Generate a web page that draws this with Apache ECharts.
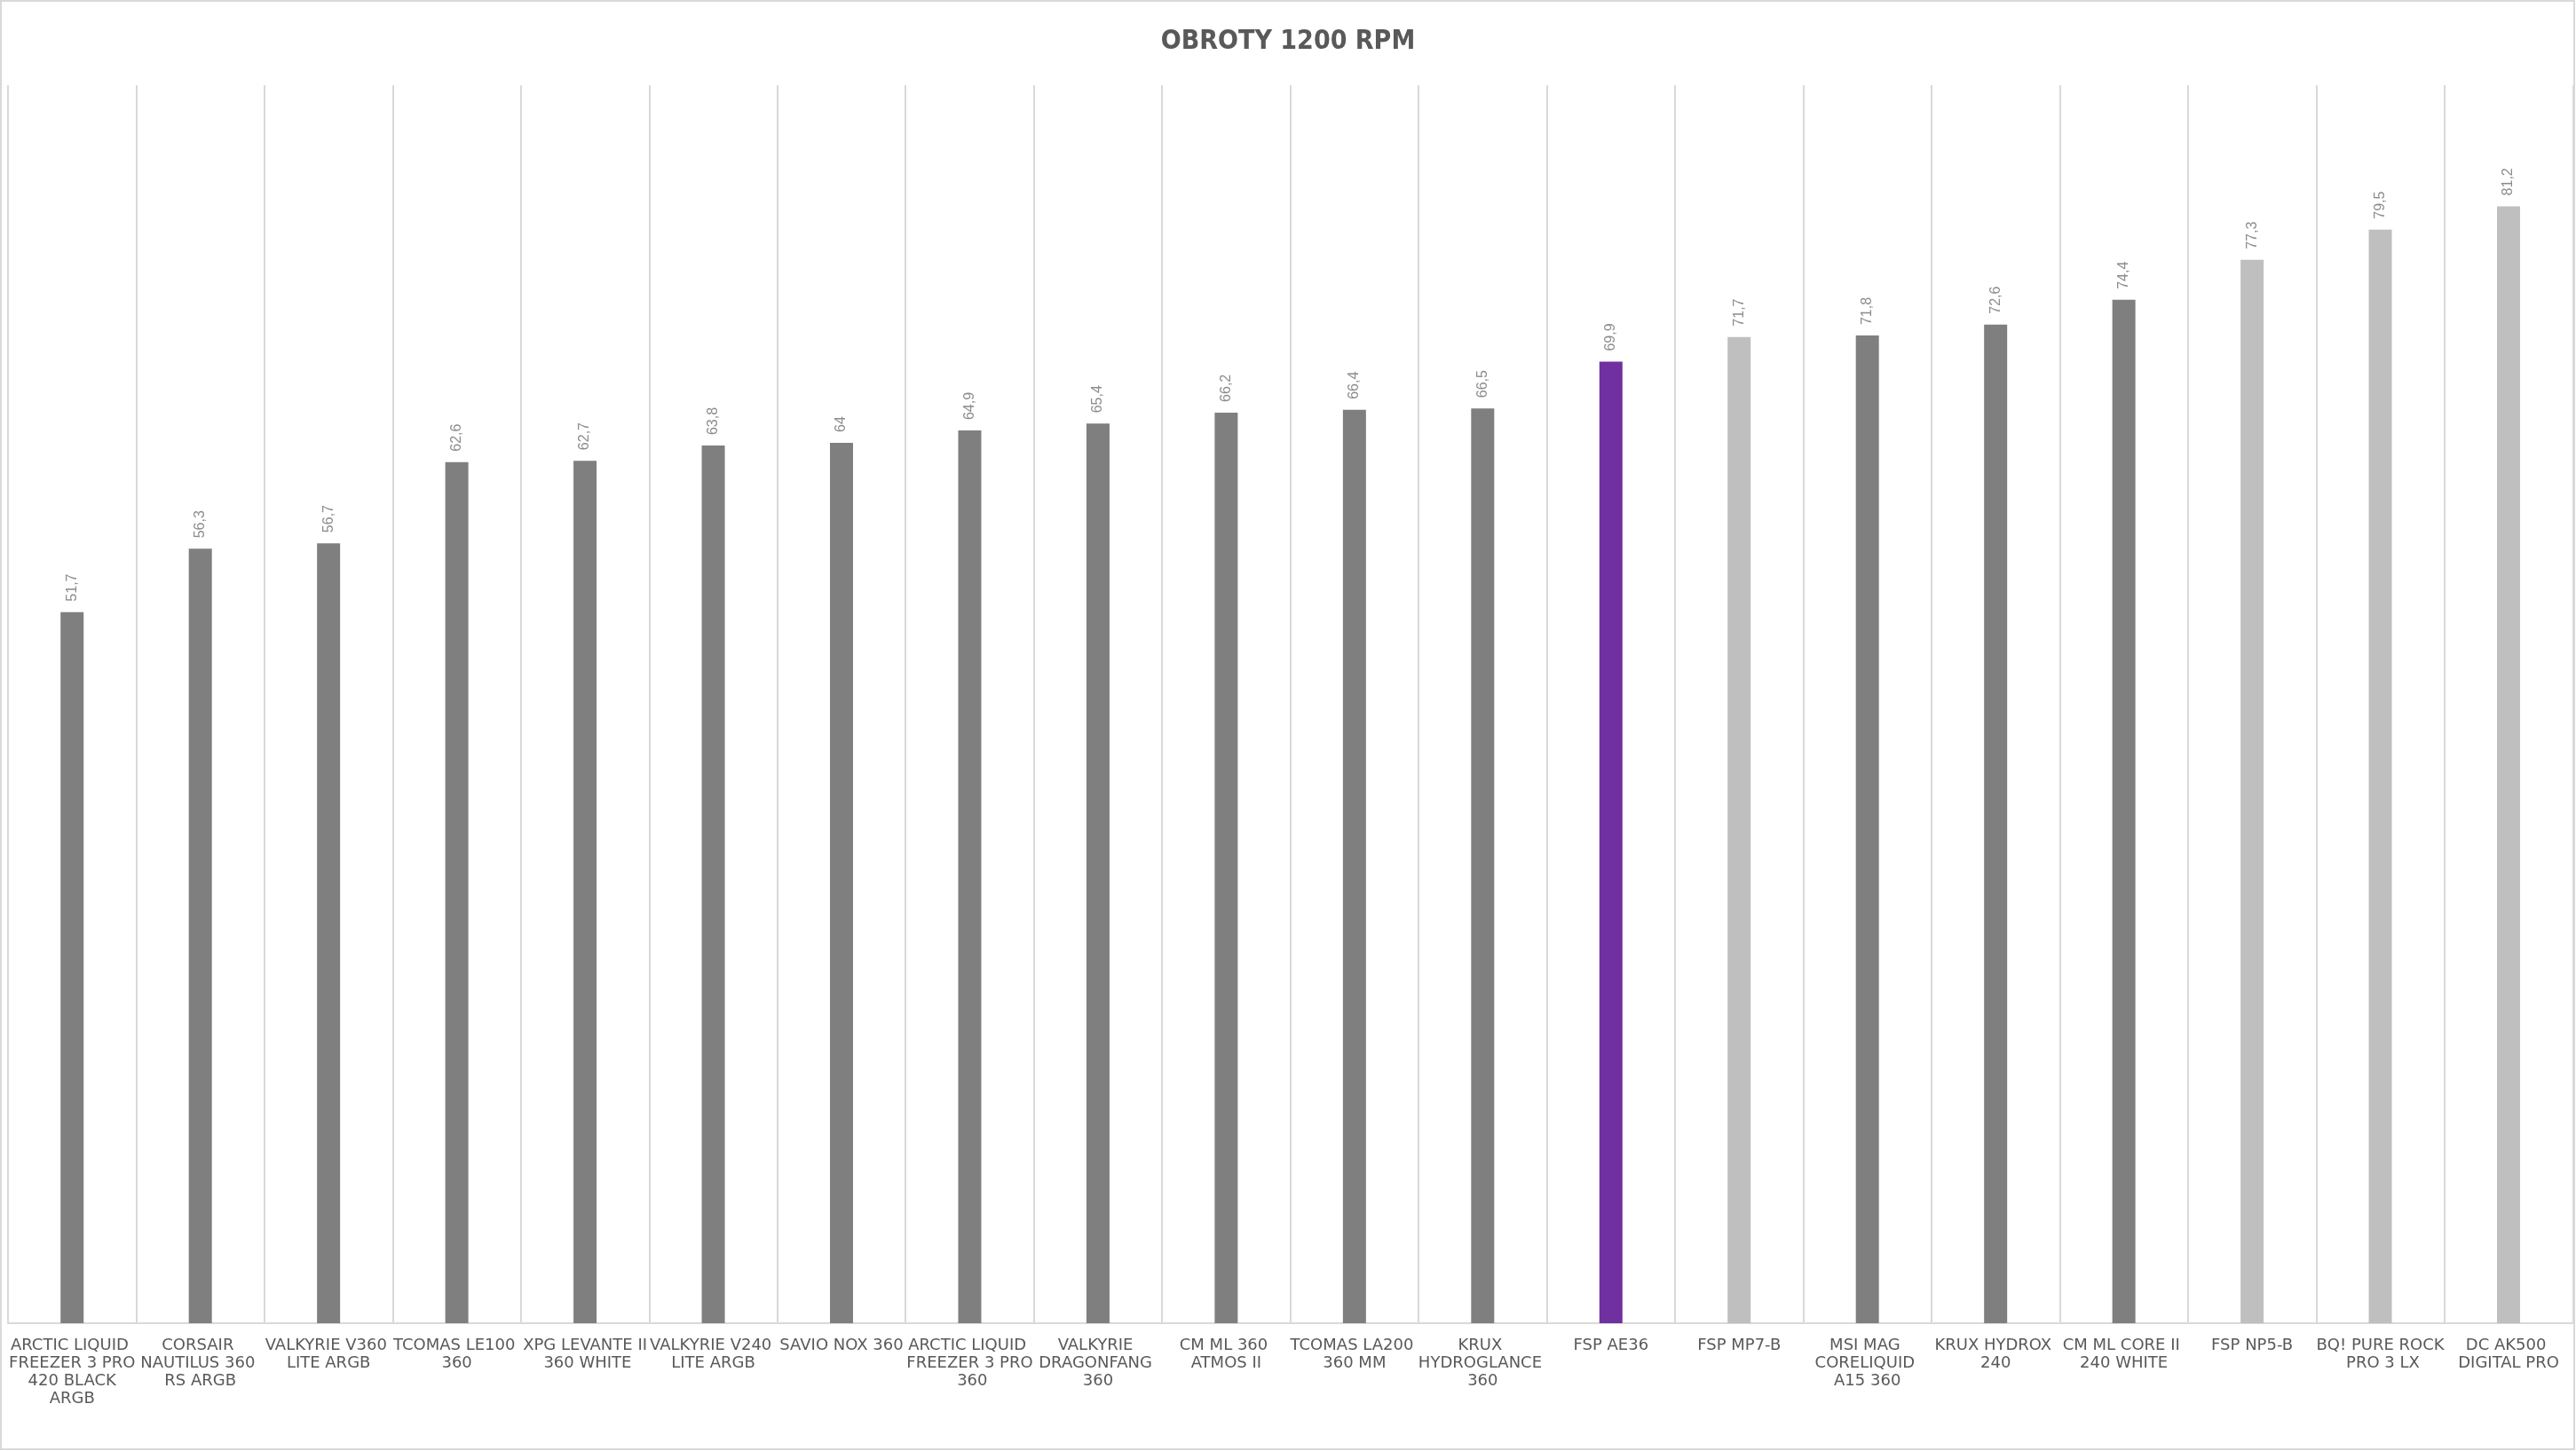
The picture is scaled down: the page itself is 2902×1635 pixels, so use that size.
<!DOCTYPE html>
<html>
<head>
<meta charset="utf-8">
<script src="https://cdn.jsdelivr.net/npm/echarts@6/dist/echarts.min.js"></script>
<style>
html,body{margin:0;padding:0;background:#fff;}
#c{width:2902px;height:1635px;}
</style>
</head>
<body>
<div id="c"></div>
<script>
const titleText = 'OBROTY 1200 RPM';
const categories = [
  'ARCTIC LIQUID FREEZER 3 PRO 420 BLACK ARGB',
  'CORSAIR NAUTILUS 360 RS ARGB',
  'VALKYRIE V360 LITE ARGB',
  'TCOMAS LE100 360',
  'XPG LEVANTE II 360 WHITE',
  'VALKYRIE V240 LITE ARGB',
  'SAVIO NOX 360',
  'ARCTIC LIQUID FREEZER 3 PRO 360',
  'VALKYRIE DRAGONFANG 360',
  'CM ML 360 ATMOS II',
  'TCOMAS LA200 360 MM',
  'KRUX HYDROGLANCE 360',
  'FSP AE36',
  'FSP MP7-B',
  'MSI MAG CORELIQUID A15 360',
  'KRUX HYDROX 240',
  'CM ML CORE II 240 WHITE',
  'FSP NP5-B',
  'BQ! PURE ROCK PRO 3 LX',
  'DC AK500 DIGITAL PRO'
];
const values = [51.7, 56.3, 56.7, 62.6, 62.7, 63.8, 64, 64.9, 65.4, 66.2, 66.4, 66.5, 69.9, 71.7, 71.8, 72.6, 74.4, 77.3, 79.5, 81.2];
const groups = ['aio','aio','aio','aio','aio','aio','aio','aio','aio','aio','aio','aio','tested','air','aio','aio','aio','air','air','air'];

const groupColor = {aio: '#7f7f7f', air: '#bfbfbf', tested: '#7030a0'};

const chart = echarts.init(document.getElementById('c'), null, {renderer: 'canvas'});
chart.setOption({
  backgroundColor: '#ffffff',
  animation: false,
  title: {
    text: titleText,
    left: 'center',
    top: 27,
    textStyle: {
      fontFamily: 'DejaVu Sans Condensed',
      fontWeight: 'bold',
      fontSize: 30,
      color: '#595959'
    }
  },
  graphic: [{
    type: 'rect',
    shape: {x: 1, y: 1, width: 2899, height: 1632},
    style: {fill: 'none', stroke: '#d9d9d9', lineWidth: 2},
    silent: true
  }],
  grid: {left: 9, right: 3, top: 96, bottom: 144, containLabel: false},
  xAxis: {
    type: 'category',
    data: categories,
    boundaryGap: true,
    axisLine: {show: true, lineStyle: {color: '#d9d9d9', width: 2}},
    axisTick: {show: false},
    splitLine: {show: true, interval: 0, lineStyle: {color: '#d9d9d9', width: 2}},
    axisLabel: {
      interval: 0,
      margin: 15,
      width: 146,
      overflow: 'break',
      lineHeight: 20,
      fontFamily: 'DejaVu Sans',
      fontSize: 18,
      color: '#595959',
      align: 'center'
    }
  },
  yAxis: {
    type: 'value',
    min: 0,
    max: 90,
    show: false,
    splitLine: {show: false}
  },
  series: [{
    type: 'bar',
    barWidth: 26,
    data: values.map((v, i) => ({value: v, itemStyle: {color: groupColor[groups[i]]}})),
    label: {
      show: true,
      position: 'top',
      rotate: 90,
      align: 'left',
      verticalAlign: 'middle',
      distance: 12,
      fontFamily: 'Liberation Sans',
      fontSize: 16,
      color: '#8c8c8c',
      formatter: p => String(p.value).replace('.', ',')
    }
  }]
});
</script>
</body>
</html>
